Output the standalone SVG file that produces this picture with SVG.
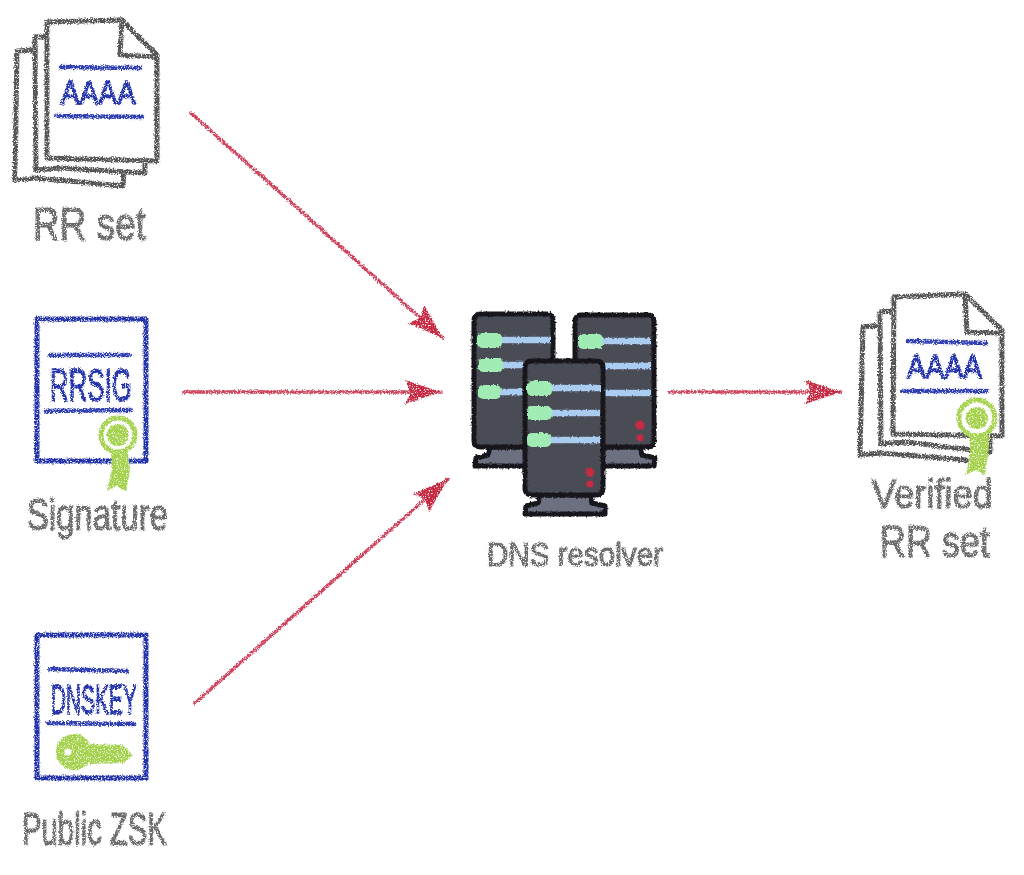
<svg xmlns="http://www.w3.org/2000/svg" width="1024" height="875" viewBox="0 0 1024 875">
<style>
.page{fill:#fff;stroke:#555;stroke-width:5;stroke-linejoin:round;stroke-linecap:round}
.back{fill:none;stroke:#555;stroke-width:5;stroke-linejoin:round;stroke-linecap:round}
.cert{fill:#fff;stroke:#2433ac;stroke-width:5;stroke-linejoin:round}
.rule{stroke:#2f3eb4;stroke-width:4.5;stroke-linecap:round;fill:none}
.rec{font-family:"Liberation Sans",sans-serif;fill:#2433ac;stroke:#2433ac;stroke-width:1.4}
.lab{font-family:"Liberation Sans",sans-serif;fill:#6a6a6a;stroke:#6a6a6a;stroke-width:1.2}
.lime{fill:#a5d24e}
.srv{fill:#4a4b55;stroke:#16161a;stroke-width:5;stroke-linejoin:round}
.base{fill:#6c7080;stroke:#16161a;stroke-width:5;stroke-linejoin:round}
.blue{stroke:#a9ccf0;stroke-width:6.5;fill:none}
.green{fill:#a0ecb4}
.red{fill:#c62c42}
.wire{stroke:#d0405a;stroke-width:3.5;fill:none;stroke-linecap:round}
</style>
<defs>
<filter id="crayon" x="-10%" y="-10%" width="120%" height="120%">
<feTurbulence type="fractalNoise" baseFrequency="0.75" numOctaves="2" seed="4" result="n"/>
<feDisplacementMap in="SourceGraphic" in2="n" scale="4" xChannelSelector="R" yChannelSelector="G" result="d"/>
<feColorMatrix in="n" type="matrix" values="0 0 0 0 0  0 0 0 0 0  0 0 0 0 0  5 0 0 0 -1.3" result="m"/>
<feComposite in="d" in2="m" operator="in"/>
<feGaussianBlur stdDeviation="0.55"/>
</filter>
<filter id="soft" x="-5%" y="-5%" width="110%" height="110%">
<feTurbulence type="fractalNoise" baseFrequency="0.5" numOctaves="2" seed="9" result="n"/>
<feDisplacementMap in="SourceGraphic" in2="n" scale="3" xChannelSelector="R" yChannelSelector="G"/>
<feGaussianBlur stdDeviation="0.7"/>
</filter>
<marker id="head" markerUnits="userSpaceOnUse" markerWidth="40" markerHeight="28" viewBox="0 0 40 28" refX="38" refY="14" orient="auto">
<path d="M2,2 L38,14 L2,26 L8,14 Z" fill="#c62c42"/>
</marker>
</defs>
<rect width="1024" height="875" fill="#fff"/>

<g id="connectors" filter="url(#crayon)">
<path class="wire" d="M191,113 L443,338" marker-end="url(#head)"/>
<path class="wire" d="M184,392 L441,392" marker-end="url(#head)"/>
<path class="wire" d="M195,703 L448,479" marker-end="url(#head)"/>
<path class="wire" d="M669,392 L841,392" marker-end="url(#head)"/>
</g>

<g id="rr-set" filter="url(#crayon)">
<path class="back" d="M35,50 L17,51 L15,180 L35,178 L123,186 L124,172"/>
<path class="back" d="M47,37 L35,37 L36,170 L60,168 L145,173 L145,161"/>
<path class="page" d="M47,22 L122,20 L157,55 L157,161 L47,158 Z"/>
<path class="back" d="M122,20 L120,55 L157,57"/>
<path class="rule" d="M61,67 L140,68"/>
<path class="rule" d="M56,116 L142,117"/>
<text class="rec" x="61" y="104" font-size="33" textLength="75" lengthAdjust="spacingAndGlyphs">AAAA</text>
<text class="lab" x="33" y="240" font-size="47" textLength="113" lengthAdjust="spacingAndGlyphs">RR set</text>
</g>

<g id="signature" filter="url(#crayon)">
<rect class="cert" x="37" y="319" width="109" height="142"/>
<path class="rule" d="M50,355 L130,355"/>
<path class="rule" d="M46,411 L131,410"/>
<text class="rec" x="50" y="401" font-size="47" textLength="82" lengthAdjust="spacingAndGlyphs">RRSIG</text>
<path class="lime" d="M111,452 L128,452 L130,470 L126,492 L117,486 L107,491 L112,470 Z"/>
<circle cx="118" cy="435" r="17" fill="#fff" stroke="#a5d24e" stroke-width="5"/>
<circle class="lime" cx="118" cy="435" r="11"/>
<text class="lab" x="27" y="530" font-size="44" textLength="141" lengthAdjust="spacingAndGlyphs">Signature</text>
</g>

<g id="public-zsk" filter="url(#crayon)">
<rect class="cert" x="37" y="635" width="109" height="143"/>
<path class="rule" d="M50,669 L127,671"/>
<path class="rule" d="M48,723 L134,724"/>
<text class="rec" x="51" y="714" font-size="42" textLength="86" lengthAdjust="spacingAndGlyphs">DNSKEY</text>
<circle class="lime" cx="74" cy="752" r="18"/>
<path class="lime" d="M86,744 L123,745 L133,755 L124,763 L90,764 Z"/>
<circle cx="68" cy="752" r="3.5" fill="#fff"/>
<text class="lab" x="22" y="845" font-size="46" textLength="145" lengthAdjust="spacingAndGlyphs">Public ZSK</text>
</g>

<g id="dns-resolver">
<g filter="url(#soft)">
<path class="base" d="M490,447 L488,455 L476,458 L475,466 L535,466 L535,447 Z"/>
<path class="base" d="M640,447 L642,455 L655,458 L654,466 L595,466 L595,447 Z"/>
<rect class="srv" x="474" y="314" width="79" height="133" rx="6"/>
<rect class="srv" x="575" y="315" width="79" height="132" rx="6"/>
<path class="blue" d="M500,340 L551,340 M500,365 L526,365 M500,392 L526,392"/>
<rect class="green" x="477" y="333" width="25" height="15" rx="5"/>
<rect class="green" x="478" y="358" width="25" height="14" rx="5"/>
<rect class="green" x="478" y="385" width="23" height="14" rx="5"/>
<path class="blue" d="M600,341 L651,341 M602,366 L651,366 M602,393 L651,393"/>
<rect class="green" x="578" y="334" width="25" height="15" rx="5"/>
<circle class="red" cx="640" cy="425" r="4.5"/>
<circle class="red" cx="640" cy="438" r="3.5"/>
<path class="base" d="M540,495 L538,503 L526,506 L525,514 L605,514 L605,506 L592,503 L590,495 Z"/>
<rect class="srv" x="525" y="361" width="78" height="134" rx="6"/>
<path class="blue" d="M550,388 L601,388 M550,413 L600,413 M550,440 L600,440"/>
<rect class="green" x="527" y="381" width="25" height="15" rx="5"/>
<rect class="green" x="527" y="406" width="25" height="14" rx="5"/>
<rect class="green" x="527" y="433" width="24" height="14" rx="5"/>
<circle class="red" cx="590" cy="472" r="4.5"/>
<circle class="red" cx="590" cy="484" r="3.5"/>
</g>
<text class="lab" x="487" y="566" font-size="33" textLength="176" lengthAdjust="spacingAndGlyphs" filter="url(#crayon)">DNS resolver</text>
</g>

<g id="verified-rr-set" filter="url(#crayon)">
<path class="back" d="M880,325 L863,327 L860,455 L880,453 L967,460"/>
<path class="back" d="M894,311 L880,312 L881,444 L905,442 L990,452 L990,437"/>
<path class="page" d="M894,297 L965,294 L1002,330 L1002,436 L893,434 Z"/>
<path class="back" d="M965,294 L967,332 L1002,333"/>
<path class="rule" d="M908,341 L986,343"/>
<path class="rule" d="M903,391 L987,391"/>
<text class="rec" x="907" y="378" font-size="33" textLength="75" lengthAdjust="spacingAndGlyphs">AAAA</text>
<path class="lime" d="M970,435 L990,435 L988,455 L985,475 L976,470 L966,475 L970,455 Z"/>
<circle cx="977" cy="418" r="18" fill="#fff" stroke="#a5d24e" stroke-width="5"/>
<circle class="lime" cx="977" cy="418" r="11"/>
<text class="lab" x="872" y="508" font-size="40" textLength="121" lengthAdjust="spacingAndGlyphs">Verified</text>
<text class="lab" x="880" y="557" font-size="44" textLength="110" lengthAdjust="spacingAndGlyphs">RR set</text>
</g>
</svg>
